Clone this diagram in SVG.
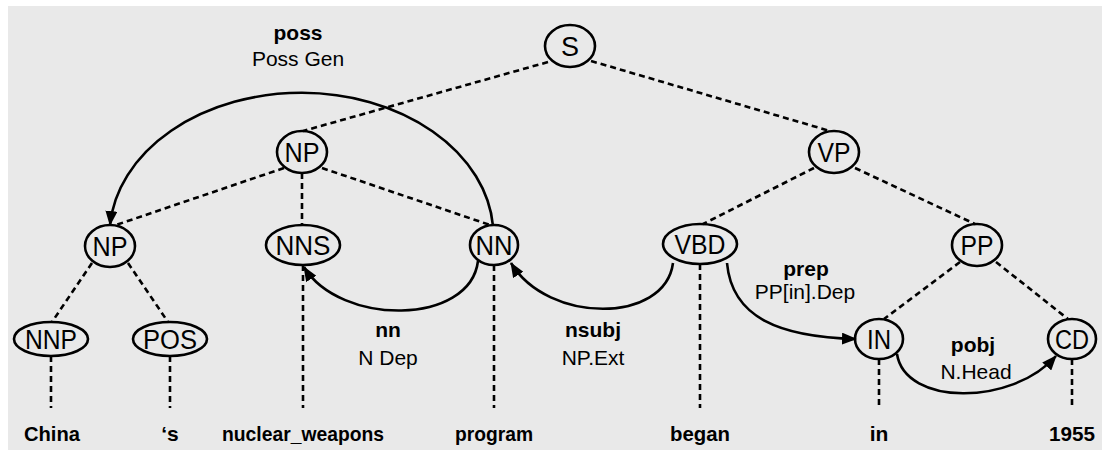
<svg xmlns="http://www.w3.org/2000/svg" width="1102" height="450" viewBox="0 0 1102 450">
<style>
.n ellipse{fill:none;stroke:#000;stroke-width:2.6}
.n text{font-family:"Liberation Sans",Arial,sans-serif;font-size:27px;text-anchor:middle;fill:#000}
.t{stroke:#000;stroke-width:2.6;stroke-dasharray:6 4;fill:none}
.d{stroke:#000;stroke-width:2.6;fill:none;marker-end:url(#ah)}
.w{font-family:"Liberation Sans",Arial,sans-serif;font-size:21px;font-weight:bold;text-anchor:middle;fill:#000}
.lb{font-family:"Liberation Sans",Arial,sans-serif;font-size:21px;font-weight:bold;text-anchor:middle;fill:#000}
.lr{font-family:"Liberation Sans",Arial,sans-serif;font-size:21px;text-anchor:middle;fill:#000}
</style>
<defs>
<marker id="ah" viewBox="0 0 15 12" refX="14" refY="6" markerWidth="15" markerHeight="12" orient="auto" markerUnits="userSpaceOnUse">
<path d="M0,0 L15,6 L0,12 z" fill="#000"/>
</marker>
</defs>
<rect x="0" y="0" width="1102" height="450" fill="#ffffff"/>
<rect x="8" y="6" width="1094" height="444" fill="#e9e9e9"/>

<g id="connectors">
<g id="tree-edges">
<line class="t" x1="548" y1="62" x2="303" y2="131"/>
<line class="t" x1="591" y1="61" x2="830" y2="131"/>
<line class="t" x1="284" y1="168" x2="116" y2="225"/>
<line class="t" x1="302" y1="173" x2="302" y2="226"/>
<line class="t" x1="322" y1="168" x2="490" y2="225"/>
<line class="t" x1="814" y1="168" x2="703" y2="224"/>
<line class="t" x1="855" y1="168" x2="975" y2="224"/>
<line class="t" x1="92" y1="263" x2="52" y2="322"/>
<line class="t" x1="128" y1="263" x2="168" y2="322"/>
<line class="t" x1="960" y1="262" x2="884" y2="319"/>
<line class="t" x1="996" y1="262" x2="1068" y2="319"/>
<line class="t" x1="51" y1="356" x2="51" y2="408"/>
<line class="t" x1="170" y1="356" x2="170" y2="408"/>
<line class="t" x1="303" y1="265" x2="303" y2="408"/>
<line class="t" x1="494" y1="265" x2="494" y2="408"/>
<line class="t" x1="700" y1="264" x2="700" y2="408"/>
<line class="t" x1="879" y1="359" x2="879" y2="408"/>
<line class="t" x1="1072" y1="359" x2="1072" y2="408"/>
</g>
<g id="dependency-arcs">
<path class="d" d="M 493 226 A 192 143 0 0 0 110 225"/>
<path class="d" d="M 478 261 C 470 326, 340 326, 304 267"/>
<path class="d" d="M 673 263 C 665 324, 548 324, 511 263"/>
<path class="d" d="M 727 263 C 732 318, 780 337, 856 339"/>
<path class="d" d="M 897 354 C 905 406, 1012 406, 1056 356"/>
</g>
</g>

<g id="node-S" class="n"><ellipse cx="570" cy="46" rx="25" ry="21"/><text x="570" y="56" textLength="18" lengthAdjust="spacingAndGlyphs">S</text></g>
<g id="node-NP1" class="n"><ellipse cx="302" cy="152" rx="25" ry="21"/><text x="302" y="162" textLength="35" lengthAdjust="spacingAndGlyphs">NP</text></g>
<g id="node-VP" class="n"><ellipse cx="834" cy="152" rx="25" ry="21"/><text x="834" y="162" textLength="33" lengthAdjust="spacingAndGlyphs">VP</text></g>
<g id="node-NP2" class="n"><ellipse cx="110" cy="246" rx="25" ry="21"/><text x="110" y="256" textLength="35" lengthAdjust="spacingAndGlyphs">NP</text></g>
<g id="node-NNS" class="n"><ellipse cx="303" cy="245" rx="37" ry="20"/><text x="303" y="255" textLength="55" lengthAdjust="spacingAndGlyphs">NNS</text></g>
<g id="node-NN" class="n"><ellipse cx="494" cy="245" rx="24" ry="20"/><text x="494" y="255" textLength="37" lengthAdjust="spacingAndGlyphs">NN</text></g>
<g id="node-VBD" class="n"><ellipse cx="700" cy="244" rx="37" ry="20"/><text x="700" y="254" textLength="51" lengthAdjust="spacingAndGlyphs">VBD</text></g>
<g id="node-PP" class="n"><ellipse cx="977" cy="245" rx="25" ry="21"/><text x="977" y="255" textLength="33" lengthAdjust="spacingAndGlyphs">PP</text></g>
<g id="node-NNP" class="n"><ellipse cx="51" cy="339" rx="37" ry="17"/><text x="51" y="349" textLength="52" lengthAdjust="spacingAndGlyphs">NNP</text></g>
<g id="node-POS" class="n"><ellipse cx="170" cy="339" rx="37" ry="17"/><text x="170" y="349" textLength="54" lengthAdjust="spacingAndGlyphs">POS</text></g>
<g id="node-IN" class="n"><ellipse cx="879" cy="339" rx="24" ry="20"/><text x="879" y="349" textLength="24" lengthAdjust="spacingAndGlyphs">IN</text></g>
<g id="node-CD" class="n"><ellipse cx="1072" cy="339" rx="24" ry="20"/><text x="1072" y="349" textLength="34" lengthAdjust="spacingAndGlyphs">CD</text></g>

<g id="labels">
<text class="lb" x="298" y="40">poss</text>
<text class="lr" x="298" y="66">Poss Gen</text>
<text class="lb" x="388" y="337">nn</text>
<text class="lr" x="388" y="365">N Dep</text>
<text class="lb" x="593" y="337">nsubj</text>
<text class="lr" x="593" y="365">NP.Ext</text>
<text class="lb" x="806" y="276">prep</text>
<text class="lr" x="805" y="299">PP[in].Dep</text>
<text class="lb" x="973" y="352">pobj</text>
<text class="lr" x="976" y="379">N.Head</text>
</g>

<g id="words">
<text class="w" x="52" y="441" textLength="56" lengthAdjust="spacingAndGlyphs">China</text>
<text class="w" x="170" y="441">‘s</text>
<text class="w" x="303" y="441" textLength="162" lengthAdjust="spacingAndGlyphs">nuclear_weapons</text>
<text class="w" x="494" y="441" textLength="78" lengthAdjust="spacingAndGlyphs">program</text>
<text class="w" x="700" y="441" textLength="60" lengthAdjust="spacingAndGlyphs">began</text>
<text class="w" x="879" y="441">in</text>
<text class="w" x="1072" y="441" textLength="46" lengthAdjust="spacingAndGlyphs">1955</text>
</g>
</svg>
